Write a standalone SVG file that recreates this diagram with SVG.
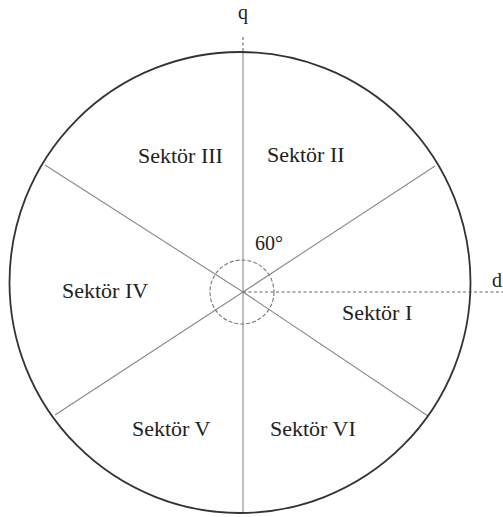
<svg xmlns="http://www.w3.org/2000/svg" width="503" height="517" viewBox="0 0 503 517">
<style>
.lbl{font-family:"Liberation Serif","Times New Roman",serif;font-size:22px;fill:#222}
.ax{font-family:"Liberation Serif","Times New Roman",serif;font-size:20px;fill:#222}
.ray{stroke:#8a8a8a;stroke-width:1.1;fill:none}
.dash{stroke:#666;stroke-width:1.1;stroke-dasharray:3 2.5;fill:none}
</style>
<rect width="503" height="517" fill="#fff"/>
<g id="connectors">
<line class="dash" x1="243" y1="37" x2="243" y2="52"/>
<line class="ray" x1="243" y1="52" x2="243" y2="513"/>
<line class="ray" x1="243" y1="292" x2="435" y2="166"/>
<line class="ray" x1="243" y1="292" x2="45" y2="165"/>
<line class="ray" x1="243" y1="292" x2="55" y2="415"/>
<line class="ray" x1="243" y1="292" x2="428" y2="416"/>
<line class="dash" x1="243" y1="292" x2="503" y2="292"/>
</g>
<g id="outer-circle">
<circle cx="240" cy="282.5" r="230.5" fill="none" stroke="#333" stroke-width="1.8"/>
</g>
<g id="angle-circle">
<circle cx="242" cy="292" r="32" fill="none" stroke="#777" stroke-width="1.1" stroke-dasharray="4 2"/>
</g>
<g id="axis-q"><text class="ax" x="243" y="19" text-anchor="middle">q</text></g>
<g id="axis-d"><text class="ax" x="492" y="287">d</text></g>
<g id="angle"><text class="ax" x="255" y="250">60°</text></g>
<g id="sektor-1"><text class="lbl" x="342" y="320">Sektör I</text></g>
<g id="sektor-2"><text class="lbl" x="267" y="162">Sektör II</text></g>
<g id="sektor-3"><text class="lbl" x="138" y="163">Sektör III</text></g>
<g id="sektor-4"><text class="lbl" x="62" y="298">Sektör IV</text></g>
<g id="sektor-5"><text class="lbl" x="132" y="436">Sektör V</text></g>
<g id="sektor-6"><text class="lbl" x="270" y="436">Sektör VI</text></g>
</svg>
